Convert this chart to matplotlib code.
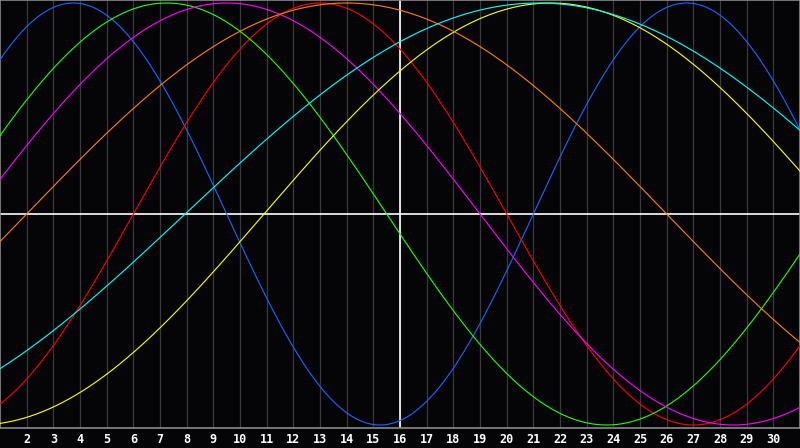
import numpy as np
import matplotlib
matplotlib.use("Agg")
import matplotlib.pyplot as plt

# cycle lengths (days) and day of upward zero crossing
periods = [23, 28, 33, 38, 43, 48, 53]
zero_days = [21.0, 6.0, -1.0, 0.0, 10.9, 2.0, 7.94]
colors = ['#1a66ff', '#ff0000', '#22ff00', '#ff00ff', '#ffff00', '#ff8000', '#00ffff']

days = list(range(2, 31))
today = 16

fig = plt.figure(figsize=(8, 4.48), dpi=100, facecolor='#050508')
ax = fig.add_axes([0, 1 - 428 / 448, 1, 428 / 448])
ax.set_facecolor('#050508')

for d in days:
    ax.axvline(d, color='#3a3a3e', lw=0.9, zorder=1)

t = np.linspace(1, 31, 2000)
for p, z, c in zip(periods, zero_days, colors):
    ax.plot(t, np.sin(2 * np.pi * (t - z) / p), color=c, lw=0.8, zorder=3)

ax.axhline(0, color='white', lw=1.2, zorder=2)
ax.axvline(today, color='white', lw=1.2, zorder=2)

ax.set_xlim(1, 31)
ax.set_ylim(-214 / 211, 214 / 211)
ax.set_yticks([])
ax.set_xticks(days)
ax.set_xticklabels([str(d) for d in days], color='white', fontsize=8.5,
                   fontweight='bold', family='DejaVu Sans Mono')
ax.tick_params(axis='x', length=0, pad=3.5)
for s in ax.spines.values():
    s.set_color('#8a8a8a')
    s.set_linewidth(1.2)

fig.savefig('out.png', dpi=100, facecolor=fig.get_facecolor())
